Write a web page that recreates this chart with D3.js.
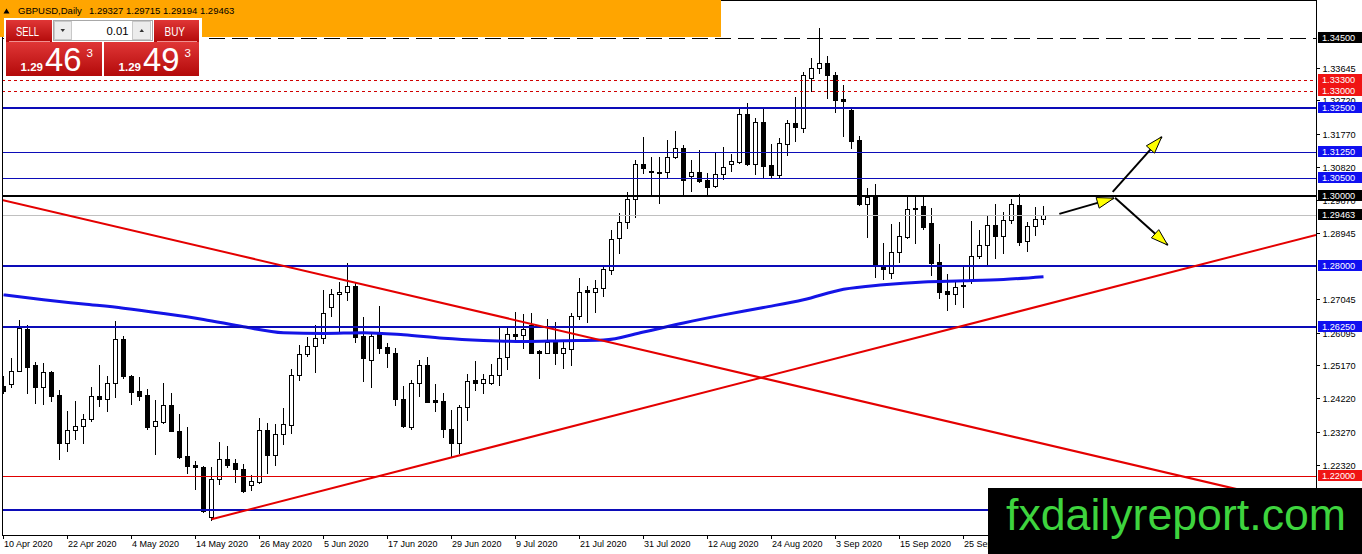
<!DOCTYPE html>
<html><head><meta charset="utf-8">
<script src="https://cdn.jsdelivr.net/npm/d3@7"></script>
<style>body{margin:0;background:#fff;overflow:hidden}svg{display:block}</style>
</head><body>
<svg id="c" width="1362" height="554"></svg>
<script>
// ---------- DATA ----------
const symbolName = "GBPUSD,Daily";
const openP = [1.2457,1.2463,1.2500,1.2620,1.2517,1.2454,1.2497,1.2431,1.2294,1.2332,
 1.2343,1.2363,1.2429,1.2420,1.2466,1.2591,1.2486,1.2443,1.2431,1.2343,
 1.2354,1.2403,1.2329,1.2257,1.2232,1.2226,1.2083,1.2192,1.2249,1.2237,
 1.2220,1.2174,1.2183,1.2332,1.2260,1.2320,1.2346,1.2488,1.2548,1.2571,
 1.2594,1.2682,1.2720,1.2725,1.2742,1.2600,1.2531,1.2605,1.2568,1.2551,
 1.2420,1.2340,1.2466,1.2517,1.2417,1.2414,1.2334,1.2294,1.2397,1.2474,
 1.2466,1.2466,1.2488,1.2540,1.2605,1.2603,1.2631,1.2557,1.2551,1.2583,
 1.2551,1.2563,1.2657,1.2731,1.2725,1.2737,1.2788,1.2879,1.2925,1.2991,
 1.3090,1.3071,1.3068,1.3068,1.3110,1.3136,1.3056,1.3068,1.3045,1.3028,
 1.3062,1.3090,1.3096,1.3233,1.3090,1.3210,1.3088,1.3059,1.3147,1.3207,
 1.3193,1.3336,1.3364,1.3379,1.3344,1.3276,1.3245,1.3159,1.2976,1.2999,
 1.2797,1.2779,1.2839,1.2882,1.2962,1.2971,1.2922,1.2811,1.2728,1.2720,
 1.2745,1.2757,1.2828,1.2859,1.2916,1.2885,1.2931,1.2973,1.2871,1.2914,
 1.29327];
const highP = [1.2486,1.2537,1.2645,1.2631,1.2526,1.2523,1.2500,1.2446,1.2386,1.2414,
 1.2377,1.2454,1.2517,1.2486,1.2642,1.2600,1.2488,1.2483,1.2448,1.2417,
 1.2466,1.2437,1.2377,1.2340,1.2243,1.2229,1.2226,1.2297,1.2286,1.2249,
 1.2234,1.2203,1.2366,1.2351,1.2349,1.2394,1.2506,1.2574,1.2597,1.2631,
 1.2731,1.2734,1.2754,1.2809,1.2751,1.2654,1.2608,1.2685,1.2580,1.2565,
 1.2457,1.2474,1.2531,1.2540,1.2463,1.2437,1.2389,1.2403,1.2491,1.2528,
 1.2491,1.2520,1.2625,1.2625,1.2668,1.2663,1.2665,1.2560,1.2648,1.2640,
 1.2586,1.2665,1.2765,1.2742,1.2759,1.2797,1.2902,1.2951,1.3011,1.3102,
 1.3167,1.3110,1.3110,1.3159,1.3185,1.3145,1.3102,1.3130,1.3065,1.3125,
 1.3139,1.3119,1.3250,1.3264,1.3222,1.3247,1.3147,1.3165,1.3216,1.3282,
 1.3353,1.3393,1.3478,1.3399,1.3353,1.3316,1.3250,1.3170,1.3022,1.3033,
 1.2865,1.2919,1.2925,1.3002,1.2996,1.2996,1.2965,1.2862,1.2777,1.2759,
 1.2797,1.2928,1.2902,1.2942,1.2976,1.2954,1.2991,1.3005,1.2925,1.2968,
 1.29715];
const lowP = [1.2437,1.2454,1.2500,1.2437,1.2409,1.2406,1.2414,1.2249,1.2272,1.2306,
 1.2294,1.2357,1.2400,1.2386,1.2426,1.2480,1.2406,1.2417,1.2334,1.2263,
 1.2351,1.2328,1.2252,1.2209,1.2163,1.2097,1.2075,1.2177,1.2226,1.2183,
 1.2155,1.2160,1.2180,1.2209,1.2232,1.2292,1.2323,1.2474,1.2543,1.2497,
 1.2580,1.2657,1.2614,1.2702,1.2583,1.2471,1.2454,1.2551,1.2511,1.2403,
 1.2340,1.2334,1.2429,1.2410,1.2386,1.2312,1.2254,1.2266,1.2360,1.2446,
 1.2437,1.2463,1.2460,1.2506,1.2583,1.2565,1.2550,1.2480,1.2550,1.2520,
 1.2508,1.2517,1.2648,1.2640,1.2668,1.2714,1.2777,1.2836,1.2908,1.2939,
 1.3065,1.3002,1.2979,1.3053,1.3108,1.3005,1.3013,1.3039,1.3002,1.3025,
 1.3048,1.3071,1.3093,1.3088,1.3062,1.3053,1.3053,1.3053,1.3116,1.3156,
 1.3182,1.3299,1.3350,1.3279,1.3239,1.3170,1.3136,1.2973,1.2882,1.2768,
 1.2762,1.2765,1.2811,1.2879,1.2865,1.2905,1.2774,1.2708,1.2674,1.2691,
 1.2682,1.2751,1.2822,1.2802,1.2822,1.2836,1.2922,1.2859,1.2842,1.2888,
 1.29194];
const closeP = [1.2443,1.2500,1.2622,1.2511,1.2454,1.2497,1.2429,1.2294,1.2332,1.2343,
 1.2363,1.2429,1.2420,1.2466,1.2591,1.2486,1.2440,1.2429,1.2340,1.2357,
 1.2403,1.2329,1.2254,1.2229,1.2226,1.2100,1.2192,1.2249,1.2232,1.2220,
 1.2157,1.2186,1.2332,1.2260,1.2320,1.2349,1.2488,1.2548,1.2571,1.2594,
 1.2665,1.2720,1.2725,1.2742,1.2597,1.2537,1.2600,1.2565,1.2551,1.2420,
 1.2343,1.2466,1.2517,1.2411,1.2412,1.2334,1.2294,1.2397,1.2471,1.2466,
 1.2477,1.2488,1.2537,1.2605,1.2600,1.2620,1.2551,1.2551,1.2583,1.2551,
 1.2565,1.2657,1.2725,1.2725,1.2737,1.2791,1.2876,1.2925,1.2991,1.3090,
 1.3079,1.3068,1.3065,1.3110,1.3136,1.3045,1.3068,1.3042,1.3025,1.3062,
 1.3082,1.3099,1.3233,1.3090,1.3210,1.3085,1.3059,1.3150,1.3207,1.3196,
 1.3344,1.3364,1.3379,1.3344,1.3273,1.3270,1.3156,1.2976,1.2996,1.2799,
 1.2791,1.2839,1.2885,1.2962,1.2965,1.2911,1.2808,1.2725,1.2720,1.2740,
 1.2742,1.2828,1.2859,1.2916,1.2885,1.2931,1.2976,1.2868,1.2914,1.2934,
 1.29463];
const askPrice = 1.29493;
const lotSize = "0.01";

// moving average (sampled every 5 bars)
const maBars   = [0,5,10,15,20,25,30,35,40,45,50,55,60,65,70,75,80,85,90,95,100,105,110,115,120,125,130];
const maValues = [1.2717,1.2703,1.2691,1.2679,1.2664,1.2647,1.2626,1.2609,1.2607,1.2609,1.2603,1.2593,1.2587,1.2584,1.2586,1.2588,1.2611,1.2637,1.2660,1.2681,1.2703,1.2733,1.2746,1.2754,1.2757,1.2761,1.2769];

// x-axis date ticks (bar index + label)
const dateTickBars   = [0,8,16,24,32,40,48,56,64,72,80,88,96,104,112,120];
const dateTickLabels = ["10 Apr 2020","22 Apr 2020","4 May 2020","14 May 2020","26 May 2020","5 Jun 2020","17 Jun 2020","29 Jun 2020","9 Jul 2020","21 Jul 2020","31 Jul 2020","12 Aug 2020","24 Aug 2020","3 Sep 2020","15 Sep 2020","25 Sep 2020"];

// right price-axis tick labels that the picture shows
const priceTicks = [1.22320,1.23270,1.24220,1.25170,1.26095,1.27045,1.28945,1.29870,1.30820,1.31770,1.32720,1.33645];

// horizontal levels
const levelPrices = [1.34500,1.33300,1.33000,1.32500,1.31250,1.30500,1.30000,1.29463,1.28000,1.26250,1.22000,1.21040];
const levelKinds  = ["dash","dotR","dotR","blueThick","blueThin","blueThin","blackThick","bid","blueThick","blueThick","redThin","blueThick"];
const levelHasLabel = [true,true,true,true,true,true,true,true,true,true,true,false];

// trend lines: [bar, price] anchor pairs
const trendDownBars = [0,130],  trendDownPrices = [1.2987,1.2292];
const trendUpBars   = [26,130], trendUpPrices   = [1.2077,1.2688];

// yellow arrows: start bar, start price, end bar, end price
const arrowStartBars  = [131.98,138.65,138.94];
const arrowStartPrice = [1.2948,1.3011,1.2994];
const arrowEndBars    = [138.81,144.78,145.53];
const arrowEndPrice   = [1.2993,1.3168,1.2859];

const watermarkText = "fxdailyreport.com";

// ---------- DRAWING ----------
const W=1362,H=554, plotL=2, plotR=1316, plotT=0, plotB=535;
const FONT='"Liberation Sans", Arial, sans-serif';
const svg=d3.select("#c");
const x=d3.scaleLinear().domain([0,openP.length-1]).range([3.5,1043.5]);
const y=d3.scaleLinear().domain([1.20319,1.35583]).range([plotB,plotT]);

svg.append("rect").attr("width",W).attr("height",H).attr("fill","#fff");
const defs=svg.append("defs");
defs.append("clipPath").attr("id","pc").append("rect")
  .attr("x",plotL+0.5).attr("y",plotT).attr("width",plotR-plotL-0.5).attr("height",plotB-plotT);
const red=defs.append("linearGradient").attr("id","rg").attr("x1",0).attr("y1",0).attr("x2",0).attr("y2",1);
red.append("stop").attr("offset","0%").attr("stop-color","#e03636");
red.append("stop").attr("offset","100%").attr("stop-color","#b30a0a");

const g=svg.append("g").attr("clip-path","url(#pc)");

// candles
const bars=d3.range(openP.length).map(i=>({i,o:openP[i],h:highP[i],l:lowP[i],c:closeP[i]}));
const cg=g.append("g").attr("shape-rendering","crispEdges");
cg.selectAll("line.wick").data(bars).join("line").attr("class","wick")
  .attr("x1",d=>x(d.i)).attr("x2",d=>x(d.i))
  .attr("y1",d=>Math.round(y(d.h))).attr("y2",d=>Math.round(y(d.l))+1)
  .attr("stroke","#000").attr("stroke-width",1);
cg.selectAll("path.body").data(bars).join("path").attr("class","body")
  .attr("d",d=>{
    const t=Math.round(y(Math.max(d.o,d.c)))+0.5, b=Math.round(y(Math.min(d.o,d.c)))+0.5;
    const x0=x(d.i)-2;
    return `M${x0},${t}H${x0+4}V${b}H${x0}Z`;
  })
  .attr("fill",d=>d.c>=d.o?"#fff":"#000").attr("stroke","#000").attr("stroke-width",1);

// moving average
const maLine=d3.line().x(d=>x(d[0])).y(d=>y(d[1])).curve(d3.curveMonotoneX);
g.append("path").attr("d",maLine(maBars.map((b,k)=>[b,maValues[k]])))
  .attr("fill","none").attr("stroke","#1414e6").attr("stroke-width",3).attr("stroke-linejoin","round");

// horizontal levels
const styles={
  dash:{stroke:"#000",w:1,dash:"16,7",box:"#000"},
  dotR:{stroke:"#d00000",w:1,dash:"3,3",box:"#f01414"},
  blueThick:{stroke:"#0c0cb8",w:2,box:"#1010f0"},
  blueThin:{stroke:"#0c0cb8",w:1,box:"#1010f0"},
  blackThick:{stroke:"#000",w:2,box:"#000"},
  bid:{stroke:"#c0c0c0",w:1,box:"#000"},
  redThin:{stroke:"#e00000",w:1,box:"#f01414"}
};
const lg=g.append("g").attr("shape-rendering","crispEdges");
levelPrices.forEach((p,k)=>{
  const s=styles[levelKinds[k]];
  const yy=s.w===1?Math.round(y(p))+0.5:Math.round(y(p));
  lg.append("line").attr("x1",plotL).attr("x2",plotR).attr("y1",yy).attr("y2",yy)
    .attr("stroke",s.stroke).attr("stroke-width",s.w).attr("stroke-dasharray",s.dash||null);
});

// trend lines
function trend(bs,ps,extendLeft){
  const slope=(ps[1]-ps[0])/(bs[1]-bs[0]);
  const bL=extendLeft?x.invert(plotL):bs[0], bR=x.invert(plotR);
  g.append("line").attr("x1",x(bL)).attr("y1",y(ps[0]+slope*(bL-bs[0])))
    .attr("x2",x(bR)).attr("y2",y(ps[0]+slope*(bR-bs[0])))
    .attr("stroke","#e40000").attr("stroke-width",2);
}
trend(trendDownBars,trendDownPrices,true);
trend(trendUpBars,trendUpPrices,false);

// arrows
arrowStartBars.forEach((b0,k)=>{
  const x0=x(b0),y0=y(arrowStartPrice[k]),x1=x(arrowEndBars[k]),y1=y(arrowEndPrice[k]);
  g.append("line").attr("x1",x0).attr("y1",y0).attr("x2",x1).attr("y2",y1)
    .attr("stroke","#000").attr("stroke-width",2);
  const a=Math.atan2(y1-y0,x1-x0), L=17, Wd=5.5;
  const bx=x1-L*Math.cos(a), by=y1-L*Math.sin(a), px=-Math.sin(a)*Wd, py=Math.cos(a)*Wd;
  g.append("polygon").attr("points",[[x1,y1],[bx+px,by+py],[bx-px,by-py]].map(p=>p.join(",")).join(" "))
    .attr("fill","#ffff00").attr("stroke","#000").attr("stroke-width",1);
});

// frame
const fr=svg.append("g").attr("shape-rendering","crispEdges").attr("stroke","#000");
fr.append("line").attr("x1",plotL+0.5).attr("x2",plotL+0.5).attr("y1",0).attr("y2",plotB+0.5);
fr.append("line").attr("x1",plotL).attr("x2",plotR+1).attr("y1",plotB+0.5).attr("y2",plotB+0.5);
fr.append("line").attr("x1",plotL).attr("x2",plotR+1).attr("y1",0.5).attr("y2",0.5);
fr.append("line").attr("x1",plotR+0.5).attr("x2",plotR+0.5).attr("y1",0).attr("y2",plotB+0.5);

// right axis ticks
const ra=svg.append("g");
priceTicks.forEach(p=>{
  const yy=Math.round(y(p))+0.5;
  ra.append("line").attr("x1",plotR).attr("x2",plotR+4).attr("y1",yy).attr("y2",yy)
    .attr("stroke","#000").attr("shape-rendering","crispEdges");
  ra.append("text").attr("x",plotR+6.5).attr("y",yy+3.3).text(p.toFixed(5))
    .attr("font-family",FONT).attr("font-size",9.2).attr("fill","#000");
});
// level label boxes
levelPrices.forEach((p,k)=>{
  if(!levelHasLabel[k]) return;
  const s=styles[levelKinds[k]], yy=Math.round(y(p));
  ra.append("rect").attr("x",plotR+2).attr("y",yy-6).attr("width",W-plotR-2).attr("height",11)
    .attr("fill",s.box).attr("shape-rendering","crispEdges");
  ra.append("text").attr("x",plotR+6).attr("y",yy+3).text(p.toFixed(5))
    .attr("font-family",FONT).attr("font-size",9.2).attr("fill","#fff");
});

// bottom date axis
const da=svg.append("g");
dateTickBars.forEach((b,k)=>{
  const xx=x(b);
  da.append("line").attr("x1",xx).attr("x2",xx).attr("y1",plotB).attr("y2",plotB+4)
    .attr("stroke","#000").attr("shape-rendering","crispEdges");
  da.append("text").attr("x",xx+0.5).attr("y",547).text(dateTickLabels[k])
    .attr("font-family",FONT).attr("font-size",9).attr("fill","#000");
});

// header bar
const hd=svg.append("g");
hd.append("rect").attr("x",0).attr("y",0).attr("width",721).attr("height",37).attr("fill","#ffa500");
hd.append("path").attr("d","M3.5,13.5L6.5,8.5L9.5,13.5Z").attr("fill","#000");
hd.append("text").attr("x",18).attr("y",14).text(symbolName)
  .attr("font-family",FONT).attr("font-size",9.5).attr("fill","#000");
const last=openP.length-1;
hd.append("text").attr("x",89).attr("y",14)
  .text([openP[last],highP[last],lowP[last],closeP[last]].map(v=>v.toFixed(5)).join(" "))
  .attr("font-family",FONT).attr("font-size",9.5).attr("fill","#000");

// trade panel
const tp=svg.append("g");
tp.append("rect").attr("x",4).attr("y",18).attr("width",198).attr("height",60).attr("fill","#fff");
tp.append("rect").attr("x",6).attr("y",20).attr("width",46).attr("height",22).attr("fill","url(#rg)");
tp.append("rect").attr("x",154).attr("y",20).attr("width",45).attr("height",22).attr("fill","url(#rg)");
tp.append("rect").attr("x",6).attr("y",42).attr("width",96).attr("height",34).attr("fill","url(#rg)");
tp.append("rect").attr("x",104).attr("y",42).attr("width",95).attr("height",34).attr("fill","url(#rg)");
tp.append("line").attr("x1",9).attr("x2",50).attr("y1",41.5).attr("y2",41.5).attr("stroke","#f09090").attr("stroke-width",1);
tp.append("line").attr("x1",157).attr("x2",197).attr("y1",41.5).attr("y2",41.5).attr("stroke","#f09090").attr("stroke-width",1);
tp.append("text").attr("x",16).attr("y",35.5).text("SELL").attr("font-family",FONT).attr("font-size",12.5)
  .attr("fill","#fff").attr("textLength",23).attr("lengthAdjust","spacingAndGlyphs");
tp.append("text").attr("x",164.5).attr("y",35.5).text("BUY").attr("font-family",FONT).attr("font-size",12.5)
  .attr("fill","#fff").attr("textLength",20.5).attr("lengthAdjust","spacingAndGlyphs");
// lot box
tp.append("rect").attr("x",53.5).attr("y",20.5).attr("width",99).attr("height",20).attr("fill","#fff").attr("stroke","#a8a8a8");
tp.append("rect").attr("x",54.5).attr("y",21.5).attr("width",17).attr("height",18).attr("fill","#ececec").attr("stroke","#c8c8c8");
tp.append("rect").attr("x",132.5).attr("y",21.5).attr("width",18).attr("height",18).attr("fill","#ececec").attr("stroke","#c8c8c8");
tp.append("path").attr("d","M60.5,29L65,29L62.75,32Z").attr("fill","#333");
tp.append("path").attr("d","M139.5,32L144,32L141.75,29Z").attr("fill","#333");
tp.append("text").attr("x",128.5).attr("y",35).attr("text-anchor","end").text(lotSize)
  .attr("font-family",FONT).attr("font-size",11.3).attr("fill","#000");
// price parts
function priceParts(p){const s=p.toFixed(5);return [s.slice(0,4),s.slice(4,6),s.slice(6)];}
[[closeP[last],20.5],[askPrice,118.5]].forEach(([p,x0])=>{
  const [a,b,c]=priceParts(p);
  tp.append("text").attr("x",x0).attr("y",70.5).text(a).attr("font-family",FONT).attr("font-size",11.6)
    .attr("font-weight","bold").attr("fill","#fff").attr("textLength",22.5).attr("lengthAdjust","spacingAndGlyphs");
  tp.append("text").attr("x",x0+24.5).attr("y",70.5).text(b).attr("font-family",FONT).attr("font-size",33)
    .attr("fill","#fff").attr("textLength",36.5).attr("lengthAdjust","spacingAndGlyphs");
  tp.append("text").attr("x",x0+66).attr("y",56.5).text(c).attr("font-family",FONT).attr("font-size",11.5)
    .attr("fill","#fff");
});

// watermark
svg.append("rect").attr("x",988).attr("y",488).attr("width",W-988).attr("height",H-488).attr("fill","#000");
svg.append("text").attr("x",1006).attr("y",530).text(watermarkText)
  .attr("font-family",FONT).attr("font-size",44.5).attr("fill","#3ed43e")
  .attr("textLength",340).attr("lengthAdjust","spacingAndGlyphs");
</script>
</body></html>
